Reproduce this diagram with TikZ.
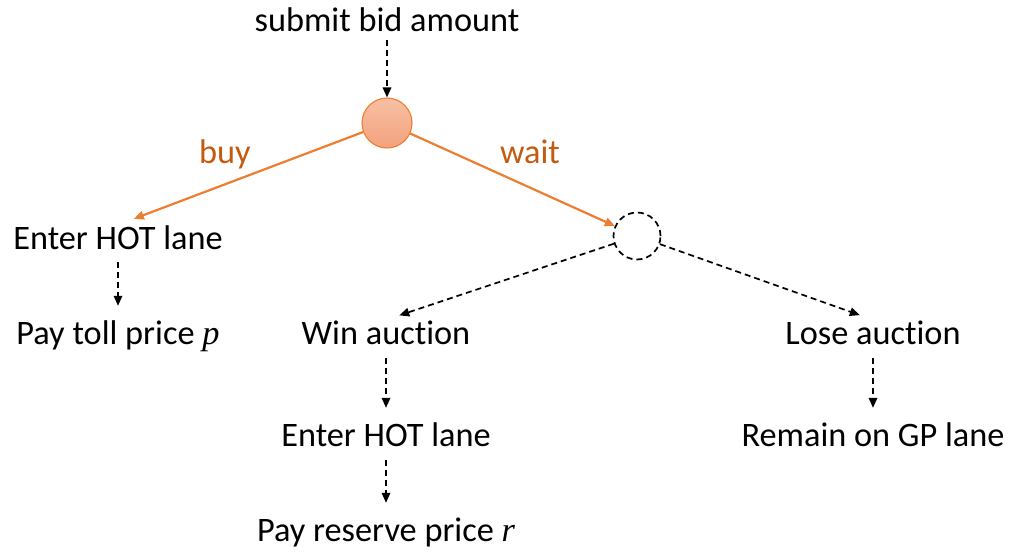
\documentclass[tikz,border=0pt]{standalone}
\usepackage{fontspec}
\setmainfont{Carlito}[RawFeature={-liga;-clig;-dlig}]
\newfontfamily\varfont{Liberation Serif}
\usetikzlibrary{arrows.meta}
\definecolor{lineorange}{HTML}{ED7D31}
\definecolor{labelorange}{HTML}{C55A11}
\definecolor{balltop}{HTML}{F7C0A4}
\definecolor{ballbot}{HTML}{F3A27C}
\newcommand{\var}[1]{{\varfont\itshape #1}}
\begin{document}
\begin{tikzpicture}[x=1pt,y=-1pt,
  lbl/.style={font=\fontsize{34.3}{40}\selectfont, anchor=base, inner sep=0pt,
              text height=24pt, text depth=7pt},
  choice/.style={font=\fontsize{34.3}{40}\selectfont, anchor=base, inner sep=0pt,
                 text=labelorange},
  tip/.style={-{Triangle[length=10pt,width=8.5pt]}},
  dasharrow/.style={tip, draw=black, line width=1.7pt, dash pattern=on 6pt off 4pt},
  orangearrow/.style={-{Triangle[length=10pt,width=8.5pt]}, draw=lineorange, line width=2.2pt},
  ball/.style={circle, minimum size=50pt, inner sep=0pt, draw=lineorange, line width=1.1pt,
               top color=balltop, bottom color=ballbot},
  chance/.style={circle, minimum size=47pt, inner sep=0pt, draw=black, line width=1.7pt,
                 dash pattern=on 6pt off 4pt}
]
\useasboundingbox (0,0) rectangle (1010,552);

% nodes
\node[lbl] (submit) at (387,31) {submit bid amount};
\node[ball] (bid) at (387,123) {};
\node[chance] (auction) at (637,236) {};

\node[lbl] (buyhot) at (118,249) {Enter HOT lane};
\node[lbl] (toll) at (118,344) {Pay toll price \var{p}};

\node[lbl] (win) at (386,344) {Win auction};
\node[lbl] (winhot) at (386,446) {Enter HOT lane};
\node[lbl] (reserve) at (386,541) {Pay reserve price \var{r}};

\node[lbl] (lose) at (873,344) {Lose auction};
\node[lbl] (gp) at (873,446) {Remain on GP lane};

\node[choice] (buylbl) at (225,163) {buy};
\node[choice] (waitlbl) at (530,163) {wait};

% connectors
\draw[dasharrow, shorten <=2pt] (submit.south) -- (bid);
\draw[orangearrow, shorten >=17pt] (bid) -- (buyhot.north);
\draw[orangearrow] (bid) -- (auction);

\draw[dasharrow, shorten <=6pt, shorten >=14pt] (buyhot.south) -- (toll.north);
\draw[dasharrow, shorten >=14pt] (auction) -- (win.north);
\draw[dasharrow, shorten >=14pt] (auction) -- (lose.north);
\draw[dasharrow, shorten <=7pt, shorten >=14pt] (win.south) -- (winhot.north);
\draw[dasharrow, shorten <=7pt, shorten >=14pt] (winhot.south) -- (reserve.north);
\draw[dasharrow, shorten <=7pt, shorten >=14pt] (lose.south) -- (gp.north);
\end{tikzpicture}
\end{document}
